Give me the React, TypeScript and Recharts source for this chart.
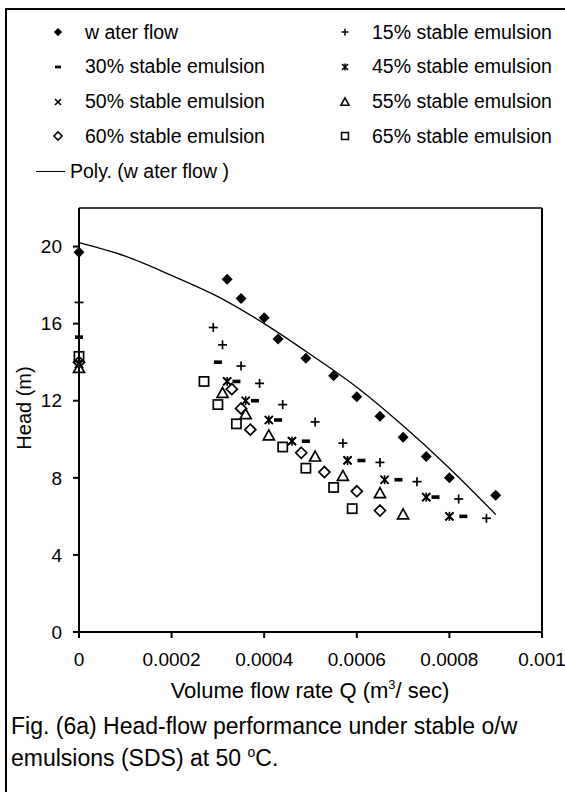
import { ComposedChart, Scatter, Line, XAxis, YAxis, ReferenceLine } from "recharts";

const FONT = "'Liberation Sans', Arial, sans-serif";

// flow rate (m3/s) and head (m)
const waterQ = [0, 0.00032, 0.00035, 0.0004, 0.00043, 0.00049, 0.00055, 0.0006, 0.00065, 0.0007, 0.00075, 0.0008, 0.0009];
const waterH = [19.7, 18.3, 17.3, 16.3, 15.2, 14.2, 13.3, 12.2, 11.2, 10.1, 9.1, 8.0, 7.1];

const e15Q = [0, 0.00029, 0.00031, 0.00035, 0.00039, 0.00044, 0.00051, 0.00057, 0.00065, 0.00073, 0.00082, 0.00088];
const e15H = [17.1, 15.8, 14.9, 13.8, 12.9, 11.8, 10.9, 9.8, 8.8, 7.8, 6.9, 5.9];

const e30Q = [0, 0.0003, 0.00034, 0.00038, 0.00043, 0.00049, 0.00061, 0.00069, 0.00077, 0.00083];
const e30H = [15.3, 14.0, 13.0, 12.0, 11.0, 9.9, 8.9, 7.9, 7.0, 6.0];

const e45Q = [0, 0.00032, 0.00036, 0.00041, 0.00046, 0.00058, 0.00066, 0.00075, 0.0008];
const e45H = [13.9, 13.0, 12.0, 11.0, 9.9, 8.9, 7.9, 7.0, 6.0];

const e50Q = [0, 0.00032, 0.00036, 0.00041, 0.00046, 0.00058, 0.00066, 0.00075, 0.0008];
const e50H = [13.9, 13.0, 12.0, 11.0, 9.9, 8.9, 7.9, 7.0, 6.0];

const e55Q = [0, 0.00031, 0.00036, 0.00041, 0.00051, 0.00057, 0.00065, 0.0007];
const e55H = [13.7, 12.4, 11.3, 10.2, 9.1, 8.1, 7.2, 6.1];

const e60Q = [0, 0.00033, 0.00035, 0.00037, 0.00048, 0.00053, 0.0006, 0.00065];
const e60H = [14.0, 12.6, 11.6, 10.5, 9.3, 8.3, 7.3, 6.3];

const e65Q = [0, 0.00027, 0.0003, 0.00034, 0.00044, 0.00049, 0.00055, 0.00059];
const e65H = [14.3, 13.0, 11.8, 10.8, 9.6, 8.5, 7.5, 6.4];

// trendline as drawn in the figure
const polyQ = [0, 0.0001, 0.0002, 0.0003, 0.0004, 0.0005, 0.0006, 0.0007, 0.0008, 0.0009];
const polyH = [20.2, 19.5, 18.5, 17.4, 16.0, 14.4, 12.7, 10.7, 8.5, 6.1];

const xTicks = [0, 0.0002, 0.0004, 0.0006, 0.0008, 0.001];
const yTicks = [0, 4, 8, 12, 16, 20];

const toPts = (qs: number[], hs: number[]) => qs.map((q, i) => ({ q, h: hs[i] }));

type Kind = "diamondFilled" | "plus" | "dash" | "star" | "cross" | "triangle" | "diamondOpen" | "square";

const drawMarker = (kind: Kind, cx: number, cy: number, k = 1) => {
  const sw = 1.7 * (k < 1 ? 0.9 : 1);
  switch (kind) {
    case "diamondFilled": {
      const s = 5.5 * k;
      return <path d={`M${cx},${cy - s}L${cx + s},${cy}L${cx},${cy + s}L${cx - s},${cy}Z`} fill="#000" />;
    }
    case "plus": {
      const s = 4.5 * k;
      return (
        <g stroke="#000" strokeWidth={sw}>
          <line x1={cx - s} y1={cy} x2={cx + s} y2={cy} />
          <line x1={cx} y1={cy - s} x2={cx} y2={cy + s} />
        </g>
      );
    }
    case "dash":
      return <rect x={cx - 4 * k} y={cy - 1.8 * k} width={8 * k} height={3.6 * k} fill="#000" />;
    case "star": {
      const s = 4 * k;
      return (
        <g stroke="#000" strokeWidth={sw}>
          <line x1={cx - s} y1={cy - s} x2={cx + s} y2={cy + s} />
          <line x1={cx - s} y1={cy + s} x2={cx + s} y2={cy - s} />
          <line x1={cx} y1={cy - s - 0.5} x2={cx} y2={cy + s + 0.5} />
        </g>
      );
    }
    case "cross": {
      const s = 4 * k;
      return (
        <g stroke="#000" strokeWidth={sw}>
          <line x1={cx - s} y1={cy - s} x2={cx + s} y2={cy + s} />
          <line x1={cx - s} y1={cy + s} x2={cx + s} y2={cy - s} />
        </g>
      );
    }
    case "triangle": {
      const s = 5.5 * k;
      return (
        <path d={`M${cx},${cy - s}L${cx + s},${cy + s * 0.8}L${cx - s},${cy + s * 0.8}Z`} fill="none" stroke="#000" strokeWidth={sw} />
      );
    }
    case "diamondOpen": {
      const s = 5.5 * k;
      return (
        <path d={`M${cx},${cy - s}L${cx + s},${cy}L${cx},${cy + s}L${cx - s},${cy}Z`} fill="none" stroke="#000" strokeWidth={sw} />
      );
    }
    case "square": {
      const s = 4.6 * k;
      return <rect x={cx - s} y={cy - s} width={2 * s} height={2 * s} fill="none" stroke="#000" strokeWidth={sw} />;
    }
  }
};

const series: { name: string; kind: Kind; data: { q: number; h: number }[] }[] = [
  { name: "w ater flow", kind: "diamondFilled", data: toPts(waterQ, waterH) },
  { name: "15% stable emulsion", kind: "plus", data: toPts(e15Q, e15H) },
  { name: "30% stable emulsion", kind: "dash", data: toPts(e30Q, e30H) },
  { name: "45% stable emulsion", kind: "star", data: toPts(e45Q, e45H) },
  { name: "50% stable emulsion", kind: "cross", data: toPts(e50Q, e50H) },
  { name: "55% stable emulsion", kind: "triangle", data: toPts(e55Q, e55H) },
  { name: "60% stable emulsion", kind: "diamondOpen", data: toPts(e60Q, e60H) },
  { name: "65% stable emulsion", kind: "square", data: toPts(e65Q, e65H) },
];

const polyData = toPts(polyQ, polyH);

const LegendRow = ({ kind, name, x, y }: { kind: Kind; name: string; x: number; y: number }) => (
  <div style={{ position: "absolute", left: x, top: y - 12, height: 24, display: "flex", alignItems: "center", whiteSpace: "nowrap" }}>
    <svg width={16} height={16} style={{ marginRight: 19 }}>
      {drawMarker(kind, 8, 8, 0.75)}
    </svg>
    <span>{name}</span>
  </div>
);

const XTitle = () => (
  <text x={310} y={698} textAnchor="middle" fontSize={22} fontFamily={FONT} fill="#000">
    Volume flow rate Q (m<tspan dy={-9} fontSize={13}>3</tspan>
    <tspan dy={9}>/ sec)</tspan>
  </text>
);

const YTitle = () => (
  <text x={24} y={408} transform="rotate(-90 24 408)" textAnchor="middle" dominantBaseline="central" fontSize={20} fontFamily={FONT} fill="#000">
    Head (m)
  </text>
);

export default function App() {
  const rowY = (i: number) => 32 + i * 34.75;
  return (
    <div style={{ position: "absolute", left: 0, top: 0, width: 565, height: 792, overflow: "hidden", background: "#fff", fontFamily: FONT, fontSize: 19.5, color: "#000" }}>
      <div style={{ position: "absolute", left: 5, top: 8, width: 620, height: 820, borderLeft: "2px solid #000", borderTop: "2px solid #000" }} />

      {series.map((s, i) => (
        <LegendRow key={s.name} kind={s.kind} name={s.name} x={i % 2 === 0 ? 50 : 337} y={rowY(Math.floor(i / 2))} />
      ))}
      <div style={{ position: "absolute", left: 36, top: rowY(4) - 12, height: 24, display: "flex", alignItems: "center", whiteSpace: "nowrap" }}>
        <div style={{ width: 29, height: 0, borderTop: "1.5px solid #000", marginRight: 5 }} />
        <span>Poly. (w ater flow )</span>
      </div>

      <div style={{ position: "absolute", left: 0, top: 0 }}>
        <ComposedChart width={565} height={740} margin={{ top: 208, right: 23, bottom: 58, left: 19 }}>
          <XAxis
            dataKey="q"
            type="number"
            domain={[0, 0.001]}
            ticks={xTicks}
            interval={0}
            tickFormatter={(v: number) => String(v)}
            axisLine={{ stroke: "#000", strokeWidth: 2 }}
            tickLine={{ stroke: "#000", strokeWidth: 2 }}
            tickSize={6}
            tickMargin={15}
            height={50}
            tick={{ fontSize: 19, fill: "#000", fontFamily: FONT }}
            label={{ content: XTitle }}
          />
          <YAxis
            dataKey="h"
            type="number"
            domain={[0, 22]}
            ticks={yTicks}
            interval={0}
            axisLine={{ stroke: "#000", strokeWidth: 2 }}
            tickLine={{ stroke: "#000", strokeWidth: 2 }}
            tickSize={6}
            tickMargin={11}
            width={60}
            tick={{ fontSize: 19, fill: "#000", fontFamily: FONT }}
            label={{ content: YTitle }}
          />
          <ReferenceLine y={22} stroke="#000" strokeWidth={1.5} />
          <ReferenceLine x={0.001} stroke="#000" strokeWidth={2} />
          <Line data={polyData} dataKey="h" type="monotone" stroke="#000" strokeWidth={1.3} dot={false} activeDot={false} isAnimationActive={false} />
          {series.map((s) => (
            <Scatter
              key={s.name}
              name={s.name}
              data={s.data}
              isAnimationActive={false}
              shape={(p: any) => drawMarker(s.kind, p.cx, p.cy, 1)}
            />
          ))}
        </ComposedChart>
      </div>

      <div style={{ position: "absolute", left: 11, top: 710, fontSize: 23, lineHeight: "32px", whiteSpace: "nowrap" }}>
        <div>Fig. (6a) Head-flow performance under stable o/w</div>
        <div>
          emulsions (SDS) at 50 <span style={{ fontSize: 14, position: "relative", top: -9 }}>o</span>C.
        </div>
      </div>
    </div>
  );
}
